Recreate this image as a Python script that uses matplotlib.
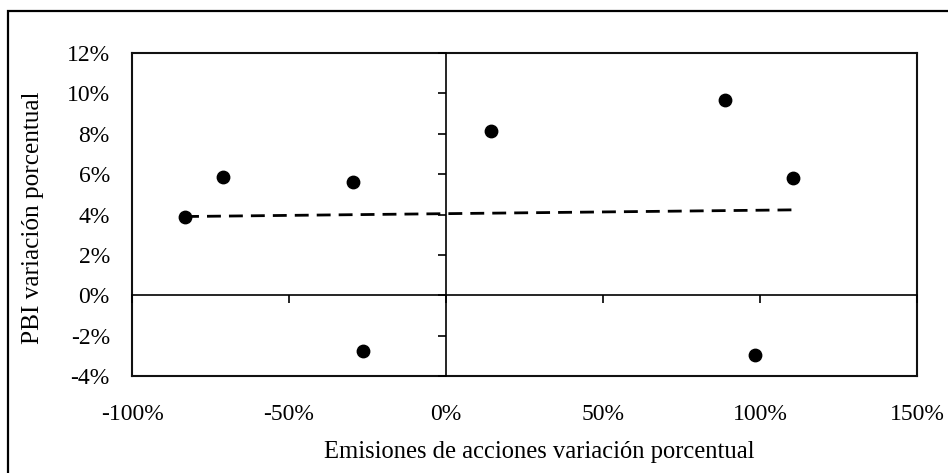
import matplotlib
matplotlib.use("Agg")
import matplotlib.pyplot as plt
import matplotlib.patches as patches
from matplotlib.ticker import FuncFormatter, MultipleLocator

plt.rcParams['font.family'] = ['Liberation Serif', 'DejaVu Serif']

# emisiones de acciones (% var) vs PBI (% var)
emisiones = [-83.1, -70.9, -29.5, -26.3, 14.4, 89.0, 110.6, 98.4]
pbi = [3.90, 5.88, 5.59, -2.75, 8.16, 9.65, 5.80, -2.95]

# linea de tendencia
tend_x = [-83.1, 110.6]
tend_y = [3.90, 4.23]

xlim = (-100, 150)
ylim = (-4, 12)
fs = 17

fig = plt.figure(figsize=(9.48, 4.73), dpi=100)

# marco exterior (cortado a la derecha y abajo, como en el original)
frame = patches.Rectangle((8 / 948, -0.05), 1.0, 1 - 11 / 473 + 0.05,
                          transform=fig.transFigure, fill=False,
                          edgecolor='black', linewidth=1.6)
fig.patches.append(frame)

pos = [132 / 948, 1 - 376 / 473, 785 / 948, 323 / 473]
ax = fig.add_axes(pos)
ax.set_xlim(xlim)
ax.set_ylim(ylim)
for s in ax.spines.values():
    s.set_linewidth(1.5)
    s.set_color('#111111')
ax.xaxis.set_major_locator(MultipleLocator(50))
ax.yaxis.set_major_locator(MultipleLocator(2))
ax.xaxis.set_major_formatter(FuncFormatter(lambda v, p: f"{v:.0f}%"))
ax.yaxis.set_major_formatter(FuncFormatter(lambda v, p: f"{v:.0f}%"))
ax.tick_params(length=0, labelsize=fs, colors='black')
ax.tick_params(axis='y', pad=16)
ax.tick_params(axis='x', pad=20)
ax.set_xlabel("Emisiones de acciones variación porcentual", fontsize=17.7, labelpad=12)
ax.set_ylabel("PBI variación porcentual", fontsize=18.2, labelpad=16)
ax.xaxis.label.set_x(0.519)
ax.yaxis.label.set_y(0.49)

# ejes cruzando en cero, con marcas de division
ax2 = fig.add_axes(pos, sharex=ax, sharey=ax)
ax2.patch.set_visible(False)
ax2.spines['top'].set_visible(False)
ax2.spines['right'].set_visible(False)
ax2.spines['left'].set_position(('data', 0))
ax2.spines['bottom'].set_position(('data', 0))
ax2.spines['left'].set_linewidth(1.2)
ax2.spines['bottom'].set_linewidth(1.2)
ax2.tick_params(labelleft=False, labelbottom=False, direction='out',
                length=6, width=1.2)

ax2.plot(tend_x, tend_y, color='black', linewidth=2.0, dashes=(5, 2.9), zorder=2)
ax2.scatter(emisiones, pbi, s=80, color='black', zorder=3, clip_on=False)

fig.savefig("out.png", dpi=100)
